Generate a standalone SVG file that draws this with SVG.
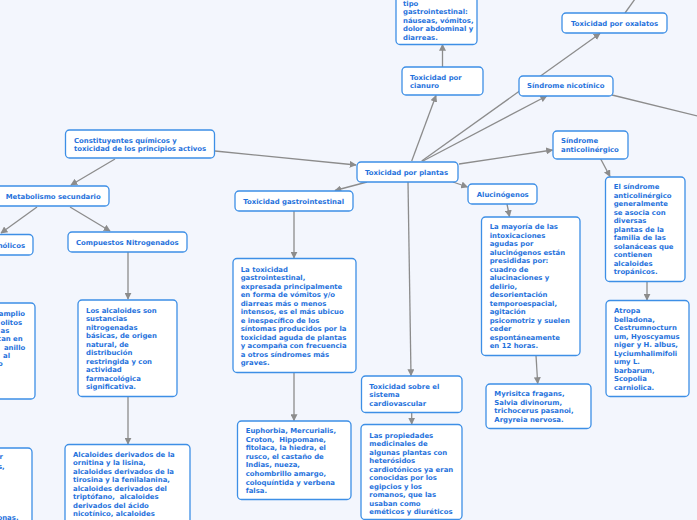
<svg xmlns="http://www.w3.org/2000/svg" width="697" height="520" viewBox="0 0 697 520">
<defs>
<style>
.bg{fill:#f3f6fd}
.box{fill:#ffffff;stroke:#3d8fe6;stroke-width:1.3}
.t{font-family:"DejaVu Sans",Verdana,sans-serif;font-weight:bold;font-size:6.9px;fill:#1f72dc}
.c{fill:none;stroke:#8c8c8c;stroke-width:1.3}
</style>
<marker id="ah" viewBox="0 0 10 10" refX="9" refY="5" markerWidth="7" markerHeight="7" markerUnits="userSpaceOnUse" orient="auto">
<path d="M0,0 L10,5 L0,10 z" fill="#8c8c8c"/>
</marker>
</defs>
<rect class="bg" x="0" y="0" width="697" height="520"/>
<g id="connectors">
<path class="c" d="M215,151 L356,165" marker-end="url(#ah)"/>
<path class="c" d="M115,159 L71,185" marker-end="url(#ah)"/>
<path class="c" d="M37,207 L1,233" marker-end="url(#ah)"/>
<path class="c" d="M70,207 L110,231" marker-end="url(#ah)"/>
<path class="c" d="M128,252 L128,299" marker-end="url(#ah)"/>
<path class="c" d="M128,396.5 L128,444" marker-end="url(#ah)"/>
<path class="c" d="M367,182 L335,190.5" marker-end="url(#ah)"/>
<path class="c" d="M294,211 L294,258" marker-end="url(#ah)"/>
<path class="c" d="M294,372.5 L294,420.5" marker-end="url(#ah)"/>
<path class="c" d="M408,182 L411,375.5" marker-end="url(#ah)"/>
<path class="c" d="M411.7,412.5 L411.7,424" marker-end="url(#ah)"/>
<path class="c" d="M453,182 L467.5,187" marker-end="url(#ah)"/>
<path class="c" d="M507,204 L509.5,216.5" marker-end="url(#ah)"/>
<path class="c" d="M536,355.5 L537.7,383.5" marker-end="url(#ah)"/>
<path class="c" d="M459,164 L552.5,150" marker-end="url(#ah)"/>
<path class="c" d="M600.7,159 L610,176.5" marker-end="url(#ah)"/>
<path class="c" d="M647,281.5 L647,300" marker-end="url(#ah)"/>
<path class="c" d="M423,161 L546.7,96" marker-end="url(#ah)"/>
<path class="c" d="M421.7,161 L600,33.5" marker-end="url(#ah)"/>
<path class="c" d="M625,13 L640,-8"/>
<path class="c" d="M612,95 L710,119"/>
<path class="c" d="M411.7,161 L436,95.5" marker-end="url(#ah)"/>
<path class="c" d="M442.5,67 L442.5,44.5" marker-end="url(#ah)"/>
</g>
<g id="n-gastro-tipo">
<rect class="box" x="396" y="-40" width="81" height="84.5" rx="4"/>
<text class="t" x="403"><tspan x="403" y="5.5">tipo</tspan><tspan x="403" y="14">gastrointestinal:</tspan><tspan x="403" y="22.5">náuseas, vómitos,</tspan><tspan x="403" y="31">dolor abdominal y</tspan><tspan x="403" y="39.5">diarreas.</tspan></text>
</g>
<g id="n-cianuro">
<rect class="box" x="402" y="67" width="81" height="28" rx="4"/>
<text class="t"><tspan x="410" y="79.6">Toxicidad por</tspan><tspan x="410" y="88.3">cianuro</tspan></text>
</g>
<g id="n-oxalatos">
<rect class="box" x="562" y="13" width="105" height="20" rx="4"/>
<text class="t" x="571" y="25.6">Toxicidad por oxalatos</text>
</g>
<g id="n-nicotinico">
<rect class="box" x="519" y="76" width="94" height="20" rx="4"/>
<text class="t" x="527" y="88">Síndrome nicotínico</text>
</g>
<g id="n-anticolinergico">
<rect class="box" x="553" y="131" width="75" height="28" rx="4"/>
<text class="t"><tspan x="561" y="143">Síndrome</tspan><tspan x="561" y="151.5">anticolinérgico</tspan></text>
</g>
<g id="n-plantas">
<rect class="box" x="357" y="162" width="101" height="20" rx="4"/>
<text class="t" x="365" y="175">Toxicidad por plantas</text>
</g>
<g id="n-constituyentes">
<rect class="box" x="65.5" y="130" width="149" height="28" rx="4"/>
<text class="t"><tspan x="74" y="143">Constituyentes químicos y</tspan><tspan x="74" y="151.2">toxicidad de los principios activos</tspan></text>
</g>
<g id="n-metabolismo">
<rect class="box" x="-6" y="186" width="115" height="20" rx="4"/>
<text class="t" x="5.7" y="198.6">Metabolismo secundario</text>
</g>
<g id="n-fenolicos">
<rect class="box" x="-40" y="234.5" width="73" height="20.5" rx="4"/>
<text class="t" x="25" y="248" text-anchor="end">nólicos</text>
</g>
<g id="n-nitrogenados">
<rect class="box" x="68" y="232" width="119" height="20" rx="4"/>
<text class="t" x="76" y="244.6">Compuestos Nitrogenados</text>
</g>
<g id="n-alcaloides">
<rect class="box" x="78" y="300" width="99" height="96.5" rx="4"/>
<text class="t"><tspan x="86" y="313">Los alcaloides son</tspan><tspan x="86" y="321.45">sustancias</tspan><tspan x="86" y="329.9">nitrogenadas</tspan><tspan x="86" y="338.35">básicas, de origen</tspan><tspan x="86" y="346.8">natural, de</tspan><tspan x="86" y="355.25">distribución</tspan><tspan x="86" y="363.7">restringida y con</tspan><tspan x="86" y="372.15">actividad</tspan><tspan x="86" y="380.6">farmacológica</tspan><tspan x="86" y="389.05">significativa.</tspan></text>
</g>
<g id="n-derivados">
<rect class="box" x="65" y="444.5" width="125" height="90" rx="4"/>
<text class="t" xml:space="preserve"><tspan x="73" y="457">Alcaloides derivados de la</tspan><tspan x="73" y="465.45">ornitina y la lisina,</tspan><tspan x="73" y="473.9">alcaloides derivados de la</tspan><tspan x="73" y="482.35">tirosina y la fenilalanina,</tspan><tspan x="73" y="490.8">alcaloides derivados del</tspan><tspan x="73" y="499.25">triptófano,  alcaloides</tspan><tspan x="73" y="507.7">derivados del ácido</tspan><tspan x="73" y="516.15">nicotínico, alcaloides</tspan></text>
</g>
<g id="n-left-mid">
<rect class="box" x="-80" y="303" width="115" height="96" rx="4"/>
<text class="t" text-anchor="end"><tspan x="25" y="316.3">amplio</tspan><tspan x="22" y="324.6">olitos</tspan><tspan x="9.3" y="333">as</tspan><tspan x="22.7" y="341.3">can en</tspan><tspan x="25.3" y="349.6">anillo</tspan><tspan x="10" y="358">al</tspan><tspan x="2.7" y="366.3">o</tspan></text>
</g>
<g id="n-left-bottom">
<rect class="box" x="-80" y="448" width="112" height="90" rx="4"/>
<text class="t" text-anchor="end"><tspan x="3" y="459">r</tspan><tspan x="4.7" y="469">s,</tspan><tspan x="18.5" y="519.5">onas.</tspan></text>
</g>
<g id="n-gastrointestinal">
<rect class="box" x="235" y="191" width="118" height="20" rx="4"/>
<text class="t" x="243.3" y="204">Toxicidad gastrointestinal</text>
</g>
<g id="n-gastro-desc">
<rect class="box" x="233" y="258.5" width="123" height="114" rx="4"/>
<text class="t"><tspan x="240.7" y="272">La toxicidad</tspan><tspan x="240.7" y="280.45">gastrointestinal,</tspan><tspan x="240.7" y="288.9">expresada principalmente</tspan><tspan x="240.7" y="297.35">en forma de vómitos y/o</tspan><tspan x="240.7" y="305.8">diarreas más o menos</tspan><tspan x="240.7" y="314.25">intensos, es el más ubicuo</tspan><tspan x="240.7" y="322.7">e inespecífico de los</tspan><tspan x="240.7" y="331.15">síntomas producidos por la</tspan><tspan x="240.7" y="339.6">toxicidad aguda de plantas</tspan><tspan x="240.7" y="348.05">y acompaña con frecuencia</tspan><tspan x="240.7" y="356.5">a otros síndromes más</tspan><tspan x="240.7" y="364.95">graves.</tspan></text>
</g>
<g id="n-euphorbia">
<rect class="box" x="237.5" y="421" width="113.5" height="78.5" rx="4"/>
<text class="t" xml:space="preserve"><tspan x="245.7" y="433">Euphorbia, Mercurialis,</tspan><tspan x="245.7" y="441.6">Croton,  Hippomane,</tspan><tspan x="245.7" y="450.2">fitolaca, la hiedra, el</tspan><tspan x="245.7" y="458.8">rusco, el castaño de</tspan><tspan x="245.7" y="467.4">Indias, nueza,</tspan><tspan x="245.7" y="476">cohombrillo amargo,</tspan><tspan x="245.7" y="484.6">coloquíntida y verbena</tspan><tspan x="245.7" y="493.2">falsa.</tspan></text>
</g>
<g id="n-cardio">
<rect class="box" x="361.5" y="376" width="100.5" height="36.5" rx="4"/>
<text class="t"><tspan x="369.3" y="389">Toxicidad sobre el</tspan><tspan x="369.3" y="397.4">sistema</tspan><tspan x="369.3" y="405.8">cardiovascular</tspan></text>
</g>
<g id="n-cardio-desc">
<rect class="box" x="361" y="424.5" width="101" height="95" rx="4"/>
<text class="t"><tspan x="369.3" y="438">Las propiedades</tspan><tspan x="369.3" y="446.44">medicinales de</tspan><tspan x="369.3" y="454.88">algunas plantas con</tspan><tspan x="369.3" y="463.32">heterósidos</tspan><tspan x="369.3" y="471.76">cardiotónicos ya eran</tspan><tspan x="369.3" y="480.2">conocidas por los</tspan><tspan x="369.3" y="488.64">egipcios y los</tspan><tspan x="369.3" y="497.08">romanos, que las</tspan><tspan x="369.3" y="505.52">usaban como</tspan><tspan x="369.3" y="513.96">eméticos y diuréticos</tspan></text>
</g>
<g id="n-alucinogenos">
<rect class="box" x="468" y="184" width="69" height="20" rx="4"/>
<text class="t" x="476.7" y="196.6">Alucinógenos</text>
</g>
<g id="n-alucinogenos-desc">
<rect class="box" x="481.5" y="217" width="98.5" height="138.5" rx="4"/>
<text class="t"><tspan x="489.7" y="229">La mayoría de las</tspan><tspan x="489.7" y="237.5">intoxicaciones</tspan><tspan x="489.7" y="246">agudas por</tspan><tspan x="489.7" y="254.5">alucinógenos están</tspan><tspan x="489.7" y="263">presididas por:</tspan><tspan x="489.7" y="271.5">cuadro de</tspan><tspan x="489.7" y="280">alucinaciones y</tspan><tspan x="489.7" y="288.5">delirio,</tspan><tspan x="489.7" y="297">desorientación</tspan><tspan x="489.7" y="305.5">temporoespacial,</tspan><tspan x="489.7" y="314">agitación</tspan><tspan x="489.7" y="322.5">psicomotriz y suelen</tspan><tspan x="489.7" y="331">ceder</tspan><tspan x="489.7" y="339.5">espontáneamente</tspan><tspan x="489.7" y="348">en 12 horas.</tspan></text>
</g>
<g id="n-myrisitca">
<rect class="box" x="486" y="384" width="105" height="44.5" rx="4"/>
<text class="t"><tspan x="494.3" y="396">Myrisitca fragans,</tspan><tspan x="494.3" y="404.5">Salvia divinorum,</tspan><tspan x="494.3" y="413">trichocerus pasanoi,</tspan><tspan x="494.3" y="421.5">Argyreia nervosa.</tspan></text>
</g>
<g id="n-anticolinergico-desc">
<rect class="box" x="605.5" y="177" width="79.5" height="104.5" rx="4"/>
<text class="t"><tspan x="613.7" y="189">El síndrome</tspan><tspan x="613.7" y="197.5">anticolinérgico</tspan><tspan x="613.7" y="206">generalmente</tspan><tspan x="613.7" y="214.5">se asocia con</tspan><tspan x="613.7" y="223">diversas</tspan><tspan x="613.7" y="231.5">plantas de la</tspan><tspan x="613.7" y="240">familia de las</tspan><tspan x="613.7" y="248.5">solanáceas que</tspan><tspan x="613.7" y="257">contienen</tspan><tspan x="613.7" y="265.5">alcaloides</tspan><tspan x="613.7" y="274">tropánicos.</tspan></text>
</g>
<g id="n-atropa">
<rect class="box" x="606" y="300.5" width="83" height="96" rx="4"/>
<text class="t"><tspan x="614" y="313">Atropa</tspan><tspan x="614" y="321.56">belladona,</tspan><tspan x="614" y="330.12">Cestrumnocturn</tspan><tspan x="614" y="338.68">um, Hyoscyamus</tspan><tspan x="614" y="347.24">niger y H. albus,</tspan><tspan x="614" y="355.8">Lyciumhalimifoli</tspan><tspan x="614" y="364.36">umy L.</tspan><tspan x="614" y="372.92">barbarum,</tspan><tspan x="614" y="381.48">Scopolia</tspan><tspan x="614" y="390.04">carniolica.</tspan></text>
</g>
</svg>
